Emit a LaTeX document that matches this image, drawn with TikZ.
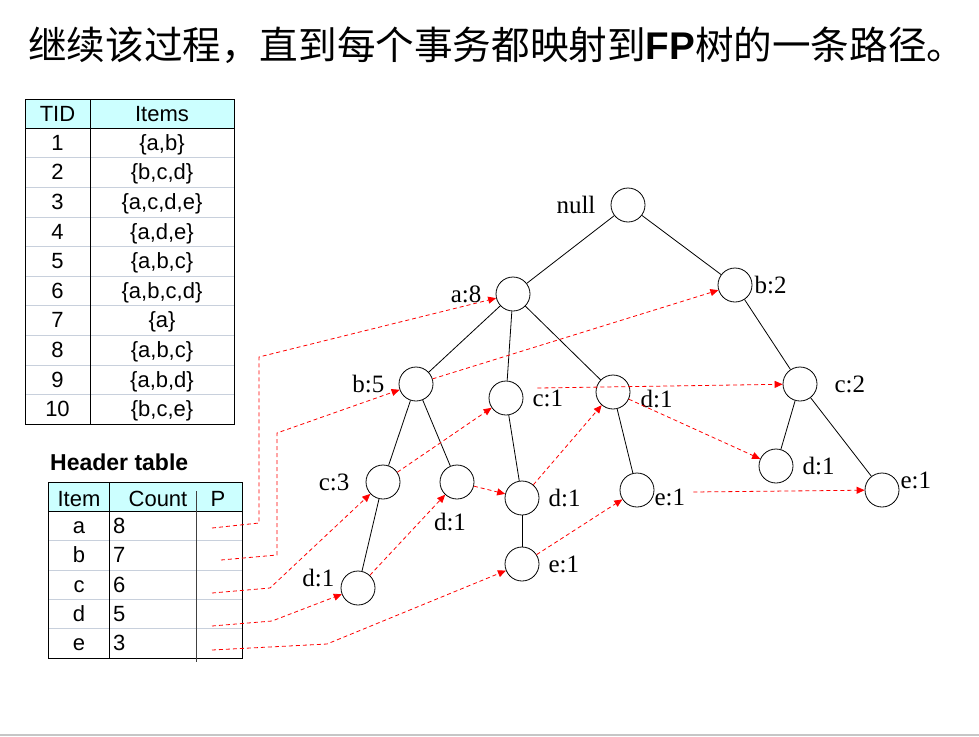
\documentclass[tikz,border=0pt]{standalone}
\usepackage{fontspec}
\setmainfont{Liberation Sans}
\newfontfamily\cjk{Noto Sans CJK SC}
\newfontfamily\tms{Liberation Serif}
\usetikzlibrary{positioning, arrows.meta}
\definecolor{hdcyan}{HTML}{CCFFFF}
\definecolor{rowline}{HTML}{C8D0DC}

\tikzset{
	fpnode/.style={circle, draw, line width=0.8pt, minimum size=34pt, inner sep=0pt},
	lbl/.style={font=\tms\fontsize{25}{25}\selectfont, inner sep=0pt, text height=16pt, text depth=0pt},
	cell/.style={font=\fontsize{22}{22}\selectfont, anchor=base, inner sep=0pt},
	tline/.style={line width=0.8pt},
	link/.style={red, dash pattern=on 4pt off 3pt, line width=0.8pt, -{Triangle[length=8pt,width=7pt]}},
}

\begin{document}
\begin{tikzpicture}[x=1pt, y=-1pt]
	\useasboundingbox (0,0) rectangle (979,736);
	\draw[gray!45, line width=2pt]	(0,734.5) -- (979,734.5);

	\node[anchor=base west, inner sep=0pt, font=\fontsize{38.6}{38.6}\selectfont] (title) at (28,59.5)
		{\cjk 继续该过程，直到每个事务都映射到{\rmfamily\bfseries FP}树的一条路径。};

	% transactions
	\def\Rh{29.6}
	\fill[hdcyan]	(25,99) rectangle (234,128);
	\foreach \i in {1,...,9}
		\draw[rowline]	(25,{128+\Rh*\i}) -- (234,{128+\Rh*\i});
	\draw	(25,128) -- (234,128);
	\draw	(90,99) -- (90,424);
	\draw	(25,99) rectangle (234,424);
	\node[cell] (tidhd) at (57.5,121.5) {TID};
	\node[cell] (itemshd) at (162,121.5) {Items};
	\foreach \t/\s [count=\i] in {1/{\{a,b\}}, 2/{\{b,c,d\}}, 3/{\{a,c,d,e\}}, 4/{\{a,d,e\}}, 5/{\{a,b,c\}}, 6/{\{a,b,c,d\}}, 7/{\{a\}}, 8/{\{a,b,c\}}, 9/{\{a,b,d\}}, 10/{\{b,c,e\}}} {
		\node[cell] (tid\i) at (57.5,{128+\Rh*(\i-0.5)+7.5}) {\t};
		\node[cell] (set\i) at (162,{128+\Rh*(\i-0.5)+7.5}) {\s};
	}

	% header table
	\def\Hh{29.4}
	\node[anchor=base west, inner sep=0pt, font=\bfseries\fontsize{23}{23}\selectfont] (hdtitle) at (50,470) {Header table};
	\fill[hdcyan]	(48,482) rectangle (242,511);
	\foreach \i in {1,...,4}
		\draw[rowline]	(48,{511+\Hh*\i}) -- (242,{511+\Hh*\i});
	\draw	(48,511) -- (242,511);
	\draw	(109,482) -- (109,658);
	\draw	(48,482) rectangle (242,658);
	\draw[black!75]	(196,491) -- (196,662);
	\node[cell] (itemhd) at (79,506.5) {Item};
	\node[cell] (counthd) at (158,506.5) {Count};
	\node[cell] (phd) at (218,506.5) {P};
	\foreach \it/\cn [count=\i] in {a/8, b/7, c/6, d/5, e/3} {
		\node[cell] (item\it) at (79,{511+\Hh*(\i-0.5)+7.5}) {\it};
		\node[cell, anchor=base west] (cnt\it) at (113,{511+\Hh*(\i-0.5)+7.5}) {\cn};
	}
	\coordinate (pa) at (212,528);
	\coordinate (pb) at (221,560);
	\coordinate (pc) at (212,593);
	\coordinate (pd) at (212,626);
	\coordinate (pe) at (212,650);

	% FP tree
	\node[fpnode] (null) at (628,205) {};
	\node[fpnode] (a8) at (513,294) {};
	\node[fpnode] (b2) at (735,285) {};
	\node[fpnode] (b5) at (416,384) {};
	\node[fpnode] (c1) at (506,398) {};
	\node[fpnode] (d1a) at (613,392) {};
	\node[fpnode] (c2) at (800,384) {};
	\node[fpnode] (c3) at (383,482) {};
	\node[fpnode] (d1b) at (457,482) {};
	\node[fpnode] (d1c) at (522,498) {};
	\node[fpnode] (e1a) at (637,490) {};
	\node[fpnode] (d1e) at (776,466) {};
	\node[fpnode] (e1e) at (882,490) {};
	\node[fpnode] (d1f) at (358,588) {};
	\node[fpnode] (e1c) at (522,564) {};

	\node[lbl, left=15pt of null] (lnull) {null};
	\node[lbl, left=14pt of a8] (la8) {a:8};
	\node[lbl, right=2pt of b2] (lb2) {b:2};
	\node[lbl, left=14pt of b5] (lb5) {b:5};
	\node[lbl, right=9pt of c1] (lc1) {c:1};
	\node[lbl, right=10pt of d1a, yshift=-7pt] (ld1a) {d:1};
	\node[lbl, right=17pt of c2] (lc2) {c:2};
	\node[lbl, left=16pt of c3] (lc3) {c:3};
	\node[lbl, below=15pt of d1b, xshift=-7pt] (ld1b) {d:1};
	\node[lbl, right=9pt of d1c] (ld1c) {d:1};
	\node[lbl, right=0pt of e1a, yshift=-7pt] (le1a) {e:1};
	\node[lbl, right=9pt of d1e] (ld1e) {d:1};
	\node[lbl, right=1pt of e1e, yshift=10pt] (le1e) {e:1};
	\node[lbl, left=6pt of d1f, yshift=10pt] (ld1f) {d:1};
	\node[lbl, right=9pt of e1c] (le1c) {e:1};

	\draw[tline]	(null) -- (a8);
	\draw[tline]	(null) -- (b2);
	\draw[tline]	(a8) -- (b5);
	\draw[tline]	(a8) -- (c1);
	\draw[tline]	(a8) -- (d1a);
	\draw[tline]	(b5) -- (c3);
	\draw[tline]	(b5) -- (d1b);
	\draw[tline]	(c3) -- (d1f);
	\draw[tline]	(c1) -- (d1c);
	\draw[tline]	(d1c) -- (e1c);
	\draw[tline]	(d1a) -- (e1a);
	\draw[tline]	(b2) -- (c2);
	\draw[tline]	(c2) -- (d1e);
	\draw[tline]	(c2) -- (e1e);

	% node-links
	\draw[link]	(pa) -- ++(47,-5) -- ++(0,-166) -- (a8);
	\draw[link]	(pb) -- ++(56,-5) -- ++(0,-122) -- (b5);
	\draw[link]	(pc) -- ++(58,-5) -- (c3);
	\draw[link]	(pd) -- ++(60,-5) -- (d1f);
	\draw[link]	(pe) -- ++(115,-6) -- (e1c);
	\draw[link]	(b5) -- (b2);
	\draw[link]	(c3) -- (c1);
	\draw[link]	([xshift=17pt]c1.35) -- (c2);
	\draw[link]	(d1f) -- (d1b);
	\draw[link]	(d1b) -- (d1c);
	\draw[link]	(d1c) -- (d1a);
	\draw[link]	(d1a) -- (d1e);
	\draw[link]	(e1c) -- (e1a);
	\draw[link]	([xshift=8pt,yshift=5pt]le1a.east) -- (e1e);
\end{tikzpicture}
\end{document}
